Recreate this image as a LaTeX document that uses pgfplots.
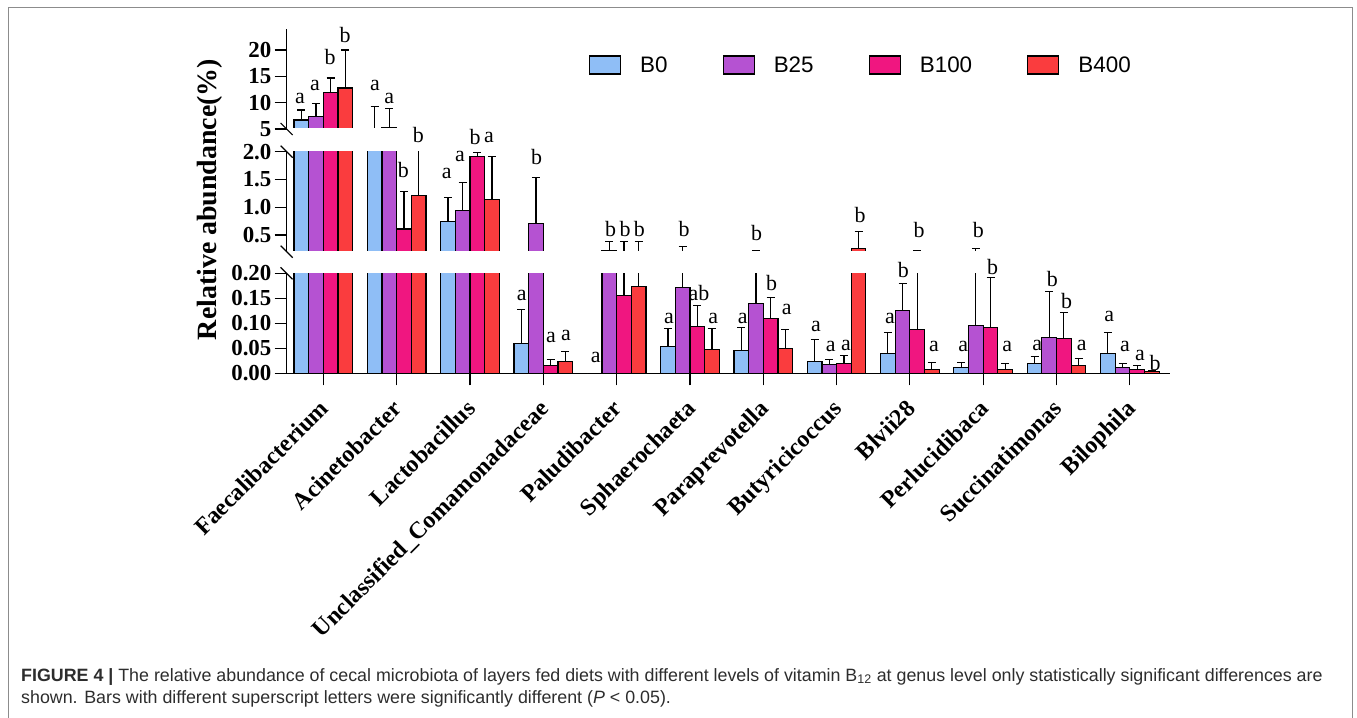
\documentclass[border=0pt]{standalone}
\usepackage{pgfplots}
\pgfplotsset{compat=1.18}
\usepackage{pgfplotstable}
\usepackage{fontspec}
\setmainfont{Liberation Serif}
\newfontfamily\capfont{Liberation Sans}
\definecolor{cBa}{RGB}{143,190,246}
\definecolor{cBb}{RGB}{181,82,210}
\definecolor{cBc}{RGB}{240,22,128}
\definecolor{cBd}{RGB}{250,60,62}
\definecolor{framegray}{RGB}{140,140,140}
\definecolor{captext}{RGB}{45,45,45}

% x = category index, y = mean, e = upper error
\pgfplotstableread{
x y e
0 6.7 1.9
1 4.5 4.8
2 0.75 0.43
3 0.060 0.067
4 0 0
5 0.053 0.037
6 0.045 0.046
7 0.023 0.045
8 0.040 0.041
9 0.012 0.009
10 0.020 0.013
11 0.039 0.042
}\tBa
\pgfplotstableread{
x y e
0 7.3 2.5
1 5.2 3.7
2 0.94 0.51
3 0.71 0.82
4 0.22 0.17
5 0.172 0.128
6 0.140 0.075
7 0.018 0.010
8 0.125 0.054
9 0.096 0.164
10 0.071 0.092
11 0.012 0.008
}\tBb
\pgfplotstableread{
x y e
0 12.0 2.7
1 0.61 0.67
2 1.91 0.08
3 0.015 0.013
4 0.155 0.225
5 0.093 0.042
6 0.109 0.042
7 0.020 0.015
8 0.087 0.138
9 0.092 0.100
10 0.069 0.052
11 0.008 0.007
}\tBc
\pgfplotstableread{
x y e
0 12.8 7.2
1 1.21 0.89
2 1.14 0.77
3 0.023 0.020
4 0.173 0.207
5 0.048 0.042
6 0.050 0.038
7 0.26 0.30
8 0.008 0.013
9 0.007 0.012
10 0.015 0.014
11 0.003 0.002
}\tBd

\pgfplotsset{
  brk/.style={
    scale only axis, width=883.6bp, height=100bp,
    xmin=-0.5, xmax=11.55,
    axis y line*=left,
    axis line style={line width=1.2bp, black},
    tick style={line width=1.2bp, black},
    major tick length=12bp,
    tick align=outside,
    yticklabel style={font=\bfseries\fontsize{23}{23}\selectfont, inner sep=0pt, anchor=east, xshift=-3bp},
    /pgf/number format/assume math mode=true,
  },
  boxlegend/.style={legend image code/.code={\draw[line width=1.2bp, draw=black, fill=#1] (0bp,-9bp) rectangle (31bp,9bp);}},
}
% #1 table, #2 colour, #3 offset of the bar within its group, #4 lower limit of the axis
\newcommand\barsof[4]{%
  \addplot[ybar, bar width=0.2, bar shift=0pt, draw=black, line width=1.2bp, fill=#2, forget plot,
    restrict y to domain=#4:1000] table[x expr=\thisrow{x}+#3, y=y]{#1};
  \addplot[draw=none, mark=none, forget plot,
    error bars/.cd, y dir=plus, y explicit,
    error bar style={draw=black, line width=1.2bp},
    error mark options={rotate=90, draw=black, line width=1.2bp, mark size=4bp}]
    table[x expr=\thisrow{x}+#3, y=y, y error=e]{#1};
}
\newcommand\allbars[1]{%
  \barsof{\tBa}{cBa}{-0.3}{#1}
  \barsof{\tBb}{cBb}{-0.1}{#1}
  \barsof{\tBc}{cBc}{0.1}{#1}
  \barsof{\tBd}{cBd}{0.3}{#1}
}
\newcommand\lab[3]{\node[font=\fontsize{22}{22}\selectfont, inner sep=0pt] at (#1bp,#2bp) {#3};}

\begin{document}
\begin{tikzpicture}
\useasboundingbox (0bp,0bp) rectangle (1357bp,718bp);
\draw[framegray, line width=1bp] (8bp,-2bp) -- (8bp,710bp) -- (1352bp,710bp) -- (1352bp,-2bp);

% bottom segment
\begin{axis}[brk, name=bot, at={(286.6bp,344.7bp)}, anchor=south west,
  ymin=0, ymax=0.2,
  axis x line*=bottom,
  ytick={0,0.05,0.1,0.15,0.2},
  yticklabels={0.00,0.05,0.10,0.15,0.20},
  xtick={0,...,11},
  xticklabels={Faecalibacterium,Acinetobacter,Lactobacillus,Unclassified\_Comamonadaceae,Paludibacter,Sphaerochaeta,Paraprevotella,Butyricicoccus,Blvii28,Perlucidibaca,Succinatimonas,Bilophila},
  xticklabel style={xshift=-5bp, yshift=-13bp, rotate=45, anchor=north east, inner sep=0pt, font=\bfseries\fontsize{24}{24}\selectfont},
]
\allbars{0}
\end{axis}

% middle segment
\begin{axis}[brk, name=mid, at={(286.6bp,466.3bp)}, anchor=south west,
  ymin=0.2, ymax=2.0,
  axis x line=none,
  ytick={0.5,1.0,1.5,2.0},
  yticklabels={0.5,1.0,1.5,2.0},
]
\allbars{0.2}
\end{axis}

% top segment
\begin{axis}[brk, name=top, at={(286.6bp,589bp)}, anchor=south west,
  ymin=5, ymax=24,
  axis x line=none,
  ytick={5,10,15,20},
  legend columns=4,
  legend cell align=left,
  legend style={draw=none, fill=none, inner sep=0pt, outer sep=0pt,
    at={(0.3422,0.64)}, anchor=west,
    font=\capfont\fontsize{22.5}{22.5}\selectfont,
    nodes={inner sep=0pt},
    /tikz/every odd column/.append style={column sep=19bp},
    /tikz/every even column/.append style={column sep=55bp}},
]
\allbars{5}
\addlegendimage{boxlegend=cBa}\addlegendentry{B0}
\addlegendimage{boxlegend=cBb}\addlegendentry{B25}
\addlegendimage{boxlegend=cBc}\addlegendentry{B100}
\addlegendimage{boxlegend=cBd}\addlegendentry{B400}
\end{axis}

% hide the bar outlines where the bars are cut by the axis break
\fill[white] ([xshift=0.7bp]mid.south west) rectangle ([yshift=0.7bp]mid.south east);
\fill[white] ([xshift=0.7bp]top.south west) rectangle ([yshift=0.7bp]top.south east);

% axis break marks
\foreach \p in {bot.north west, mid.south west, mid.north west, top.south west}
  \draw[line width=1.2bp] (\p) ++(-6bp,6bp) -- ++(12bp,-12bp);

% y axis title
\node[rotate=90, font=\bfseries\fontsize{28}{28}\selectfont] at (210bp,518.5bp) {Relative abundance(\%)};

% significance letters
\lab{300}{619.7}{a}\lab{315}{633}{a}\lab{330}{661.3}{b}\lab{345}{683}{b}
\lab{375}{633}{a}\lab{389.3}{619.7}{a}\lab{403.3}{548}{b}\lab{418.3}{583}{b}
\lab{446.7}{544.7}{a}\lab{460}{561.3}{a}\lab{475}{581}{b}\lab{489}{581}{a}
\lab{521.7}{423}{a}\lab{536.7}{561.3}{b}\lab{551}{380.7}{a}\lab{566}{383}{a}
\lab{595.7}{360.3}{a}\lab{610.7}{489}{b}\lab{625}{489}{b}\lab{639.3}{489}{b}
\lab{669}{399.7}{a}\lab{684}{489}{b}\lab{699}{424.7}{ab}\lab{713.3}{399.7}{a}
\lab{742.7}{399.7}{a}\lab{756.7}{484.7}{b}\lab{771.7}{434.7}{b}\lab{786.7}{408.7}{a}
\lab{816}{392}{a}\lab{830.7}{371.3}{a}\lab{846}{373}{a}\lab{860}{503}{b}
\lab{890}{399.7}{a}\lab{903.3}{448}{b}\lab{919}{488}{b}\lab{934}{371.3}{a}
\lab{963.3}{371.3}{a}\lab{978.3}{488}{b}\lab{992.7}{450.7}{b}\lab{1007.3}{371.3}{a}
\lab{1037.3}{373}{a}\lab{1052.3}{438.7}{b}\lab{1066.7}{417.3}{b}\lab{1081.7}{373}{a}
\lab{1109.3}{402}{a}\lab{1125}{372}{a}\lab{1140}{362.3}{a}\lab{1155}{355.3}{b}

% caption
\node[anchor=base west, inner sep=0pt, text=captext, font=\capfont\fontsize{17.9}{17.9}\selectfont] at (21bp,37bp)
  {\textbf{FIGURE 4 |} The relative abundance of cecal microbiota of layers fed diets with different levels of vitamin B\textsubscript{12} at genus level only statistically significant differences are};
\node[anchor=base west, inner sep=0pt, text=captext, font=\capfont\fontsize{17.9}{17.9}\selectfont] at (21bp,15bp)
  {shown. Bars with different superscript letters were significantly different (\textit{P} < 0.05).};
\end{tikzpicture}
\end{document}
